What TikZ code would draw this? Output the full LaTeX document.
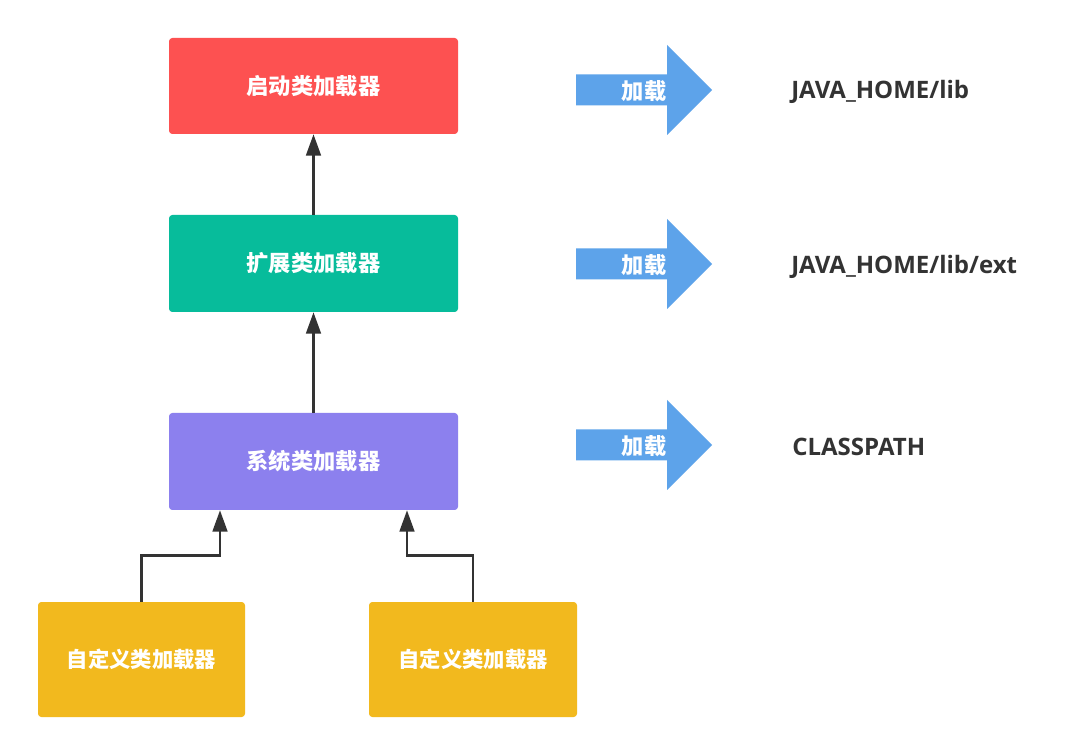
\documentclass[tikz,border=0pt]{standalone}
\usepackage{fontspec}
\setmainfont{Open Sans}
\newfontfamily\cjk{Noto Sans CJK SC}
\usetikzlibrary{arrows.meta}
\definecolor{cred}{HTML}{FD5151}
\definecolor{cgreen}{HTML}{07BC9B}
\definecolor{cpurple}{HTML}{8C80EE}
\definecolor{cyellow}{HTML}{F2B91E}
\definecolor{cblue}{HTML}{5DA3EA}
\definecolor{cdark}{HTML}{333333}
\tikzset{
  loader/.style={rectangle, rounded corners=2.5pt, draw=none, inner sep=0pt,
    minimum width=216.75pt, minimum height=72pt, text=white,
    font=\cjk\bfseries\fontsize{16.7pt}{18pt}\selectfont},
  custom/.style={loader, fill=cyellow, minimum width=155.25pt, minimum height=86.25pt,
    font=\cjk\bfseries\fontsize{16pt}{18pt}\selectfont},
  conn/.style={draw=cdark, line width=2pt, -{Triangle[length=16pt,width=11pt]}},
  pathlbl/.style={anchor=west, inner sep=0pt, text=cdark,
    font=\bfseries\fontsize{18pt}{20pt}\selectfont},
  loadarrow/.pic={
    \fill[cblue] (576,-15.5) -- (667,-15.5) -- (667,-45) -- (712,0) -- (667,45)
      -- (667,15.5) -- (576,15.5) -- cycle;
    \node[inner sep=0pt, text=white, font=\cjk\bfseries\fontsize{16.7pt}{18pt}\selectfont]
      (-lbl) at (644,1.5) {加载};
  }
}
\begin{document}
\begin{tikzpicture}[x=0.75pt,y=-0.75pt]
\useasboundingbox (0,0) rectangle (1075,755);
\fill[white] (0,0) rectangle (1075,755);

\node[loader, fill=cred] (boot) at (313.5,86) {\raisebox{-1.5pt}{启动类加载器}};
\node[loader, fill=cgreen, minimum height=72.75pt] (ext) at (313.5,263.5) {\raisebox{-1.5pt}{扩展类加载器}};
\node[loader, fill=cpurple, minimum height=72.75pt] (sys) at (313.5,461.5) {\raisebox{-1.5pt}{系统类加载器}};
\node[custom] (cu1) at (141.5,659.5) {\raisebox{-1pt}{自定义类加载器}};
\node[custom, minimum width=156pt] (cu2) at (473,659.5) {\raisebox{-1pt}{自定义类加载器}};

\draw[conn] (ext.north) -- (boot.south);
\draw[conn] (sys.north) -- (ext.south);
\draw[conn] (cu1.north) -- ++(0,-46) -| ([xshift=-70.125pt]sys.south);
\draw[conn] (cu2.north) -- ++(0,-46) -| ([xshift=70.125pt]sys.south);

\pic (a1) at (0,90) {loadarrow};
\pic (a2) at (0,264) {loadarrow};
\pic (a3) at (0,445) {loadarrow};

\node[pathlbl] (p1) at (791,92) {JAVA\_HOME/lib};
\node[pathlbl] (p2) at (791,267) {JAVA\_HOME/lib/ext};
\node[pathlbl] (p3) at (792,447) {CLASSPATH};
\end{tikzpicture}
\end{document}
